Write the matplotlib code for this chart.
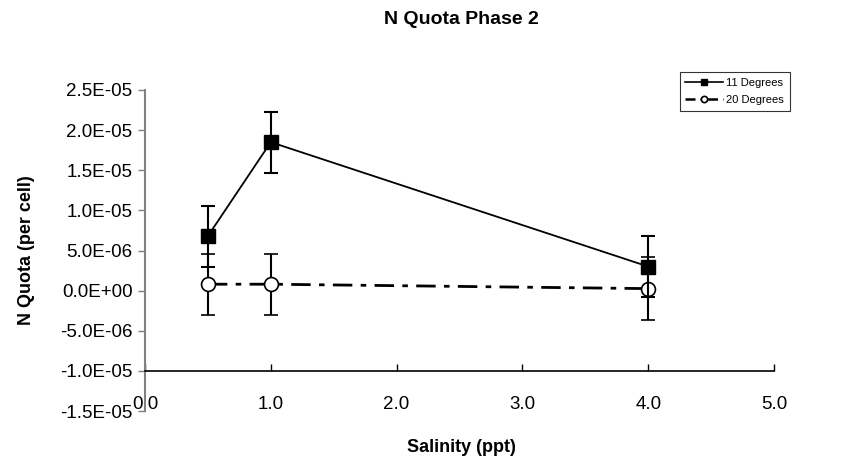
import matplotlib.pyplot as plt
from matplotlib.lines import Line2D
from matplotlib.ticker import FuncFormatter

plt.rcParams['font.family'] = ['Liberation Sans', 'DejaVu Sans']

# values
salinity = [0.5, 1.0, 4.0]
quota_11 = [6.8e-06, 1.85e-05, 3.0e-06]
err_11 = [3.8e-06, 3.8e-06, 3.8e-06]
quota_20 = [0.8e-06, 0.8e-06, 0.25e-06]
err_20 = [3.8e-06, 3.8e-06, 3.9e-06]


def sci_label(v, pos):
    v = round(v, 12)
    if v == 0:
        v = 0.0
    return f"{v:.1E}"


fig = plt.figure(figsize=(8.41, 4.66), dpi=100)
ax = fig.add_axes([145 / 841, 55 / 466, 629 / 841, 321 / 466])

# 20 degrees series (dash-dot, open circles)
ax.errorbar(salinity, quota_20, yerr=err_20, color='black', lw=2,
            ls=(0, (7, 3, 2, 3)), marker='o', ms=10, mfc='white', mec='black',
            mew=1.2, ecolor='black', elinewidth=1.5, capsize=5, capthick=1.5,
            zorder=3)

# 11 degrees series (solid, filled squares)
ax.errorbar(salinity, quota_11, yerr=err_11, color='black', lw=1.3,
            marker='s', ms=10, mfc='black', mec='black',
            ecolor='black', elinewidth=1.5, capsize=5, capthick=1.5,
            zorder=4)

ax.set_xlim(0, 5)
ax.set_ylim(-1.5e-05, 2.5e-05)
ax.set_xticks([0, 1, 2, 3, 4, 5])
ax.set_yticks([-1.5e-05 + i * 5e-06 for i in range(9)])
ax.xaxis.set_major_formatter(FuncFormatter(lambda v, p: f"{v:.1f}"))
ax.yaxis.set_major_formatter(FuncFormatter(sci_label))

for s in ['top', 'right']:
    ax.spines[s].set_visible(False)
ax.spines['bottom'].set_position(('data', -1.0e-05))
ax.spines['bottom'].set_linewidth(1.2)
ax.spines['left'].set_color('#808080')
ax.spines['left'].set_linewidth(1.5)

ax.tick_params(axis='x', direction='in', length=5, width=1, pad=18,
               labelsize=13.5)
ax.tick_params(axis='y', direction='out', length=5, width=1,
               color='#808080', labelsize=13.5, pad=4)

ax.set_ylabel('N Quota (per cell)', fontsize=13, fontweight='bold',
              labelpad=18)
fig.text(461 / 841, 1 - 447 / 466, 'Salinity (ppt)', ha='center',
         va='center', fontsize=13, fontweight='bold')
fig.text(461 / 841, 1 - 20 / 466, 'N Quota Phase 2', ha='center',
         va='center', fontsize=14, fontweight='bold')

handles = [
    Line2D([], [], color='black', lw=1.2, marker='s', ms=5),
    Line2D([], [], color='black', lw=1.8, ls=(0, (4, 2, 1, 2)), marker='o',
           ms=4.5, mfc='white', mew=1.2),
]
leg = ax.legend(handles, ['11 Degrees', '20 Degrees'], loc='upper right',
                bbox_to_anchor=(1.025, 1.056), borderaxespad=0,
                fontsize=8, frameon=True, fancybox=False, edgecolor='black',
                handlelength=3.4, borderpad=0.5, labelspacing=0.7,
                handletextpad=0.3)
leg.get_frame().set_linewidth(0.8)

fig.savefig('out.png', dpi=100)
